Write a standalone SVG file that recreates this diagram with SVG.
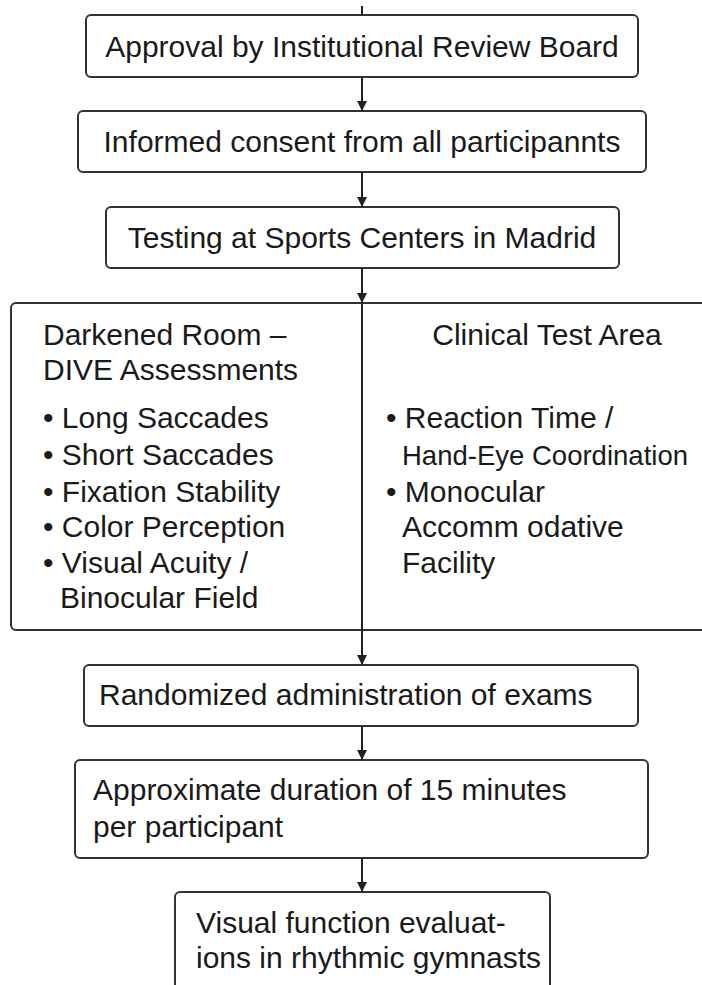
<svg xmlns="http://www.w3.org/2000/svg" width="702" height="985" viewBox="0 0 702 985">
<defs>
<marker id="ah" markerWidth="10" markerHeight="10" refX="10" refY="5" orient="auto" markerUnits="userSpaceOnUse" viewBox="0 0 10 10"><path d="M0,0 L10,5 L0,10 Z" fill="#222"/></marker>
<style>
.box{fill:#fff;stroke:#333;stroke-width:2}
.t{font-family:"Liberation Sans",Arial,sans-serif;font-size:30px;fill:#1a1a1a}
.c{text-anchor:middle}
.ln{stroke:#222;stroke-width:2;fill:none}
</style>
</defs>
<rect width="702" height="985" fill="#fff"/>
<g id="n1"><rect class="box" x="86" y="15" width="552" height="62" rx="5"/><text class="t c" x="362" y="57">Approval by Institutional Review Board</text></g>
<g id="n2"><rect class="box" x="78" y="111" width="568" height="61" rx="5"/><text class="t c" x="362" y="152">Informed consent from all participannts</text></g>
<g id="n3"><rect class="box" x="106" y="207" width="513" height="61" rx="5"/><text class="t c" x="362" y="248">Testing at Sports Centers in Madrid</text></g>
<g id="n4">
<rect class="box" x="11" y="303" width="710" height="327" rx="5"/>
<line class="ln" x1="362" y1="303" x2="362" y2="630"/>
<text class="t" x="43" y="345">Darkened Room –</text>
<text class="t" x="43" y="380">DIVE Assessments</text>
<text class="t" x="43" y="428">• Long Saccades</text>
<text class="t" x="43" y="465">• Short Saccades</text>
<text class="t" x="43" y="502">• Fixation Stability</text>
<text class="t" x="43" y="537">• Color Perception</text>
<text class="t" x="43" y="573">• Visual Acuity /</text>
<text class="t" x="60" y="608">Binocular Field</text>
<text class="t c" x="547" y="345">Clinical Test Area</text>
<text class="t" x="386" y="428">• Reaction Time /</text>
<text class="t" x="402" y="465" style="font-size:28px" textLength="286" lengthAdjust="spacingAndGlyphs">Hand-Eye Coordination</text>
<text class="t" x="386" y="502">• Monocular</text>
<text class="t" x="402" y="537">Accomm odative</text>
<text class="t" x="402" y="573">Facility</text>
</g>
<g id="n5"><rect class="box" x="84" y="665" width="554" height="61" rx="5"/><text class="t" x="99" y="705">Randomized administration of exams</text></g>
<g id="n6"><rect class="box" x="75" y="760" width="573" height="98" rx="5"/><text class="t" x="93" y="800">Approximate duration of 15 minutes</text><text class="t" x="93" y="837">per participant</text></g>
<g id="n7"><rect class="box" x="175" y="892" width="375" height="110" rx="5"/><text class="t" x="196" y="933">Visual function evaluat-</text><text class="t" x="196" y="968">ions in rhythmic gymnasts</text></g>
<g id="connectors">
<line class="ln" x1="362" y1="6" x2="362" y2="15"/>
<line class="ln" x1="362" y1="77" x2="362" y2="111" marker-end="url(#ah)"/>
<line class="ln" x1="362" y1="172" x2="362" y2="207" marker-end="url(#ah)"/>
<line class="ln" x1="362" y1="268" x2="362" y2="303" marker-end="url(#ah)"/>
<line class="ln" x1="362" y1="630" x2="362" y2="665" marker-end="url(#ah)"/>
<line class="ln" x1="362" y1="726" x2="362" y2="760" marker-end="url(#ah)"/>
<line class="ln" x1="362" y1="858" x2="362" y2="892" marker-end="url(#ah)"/>
</g>
</svg>
